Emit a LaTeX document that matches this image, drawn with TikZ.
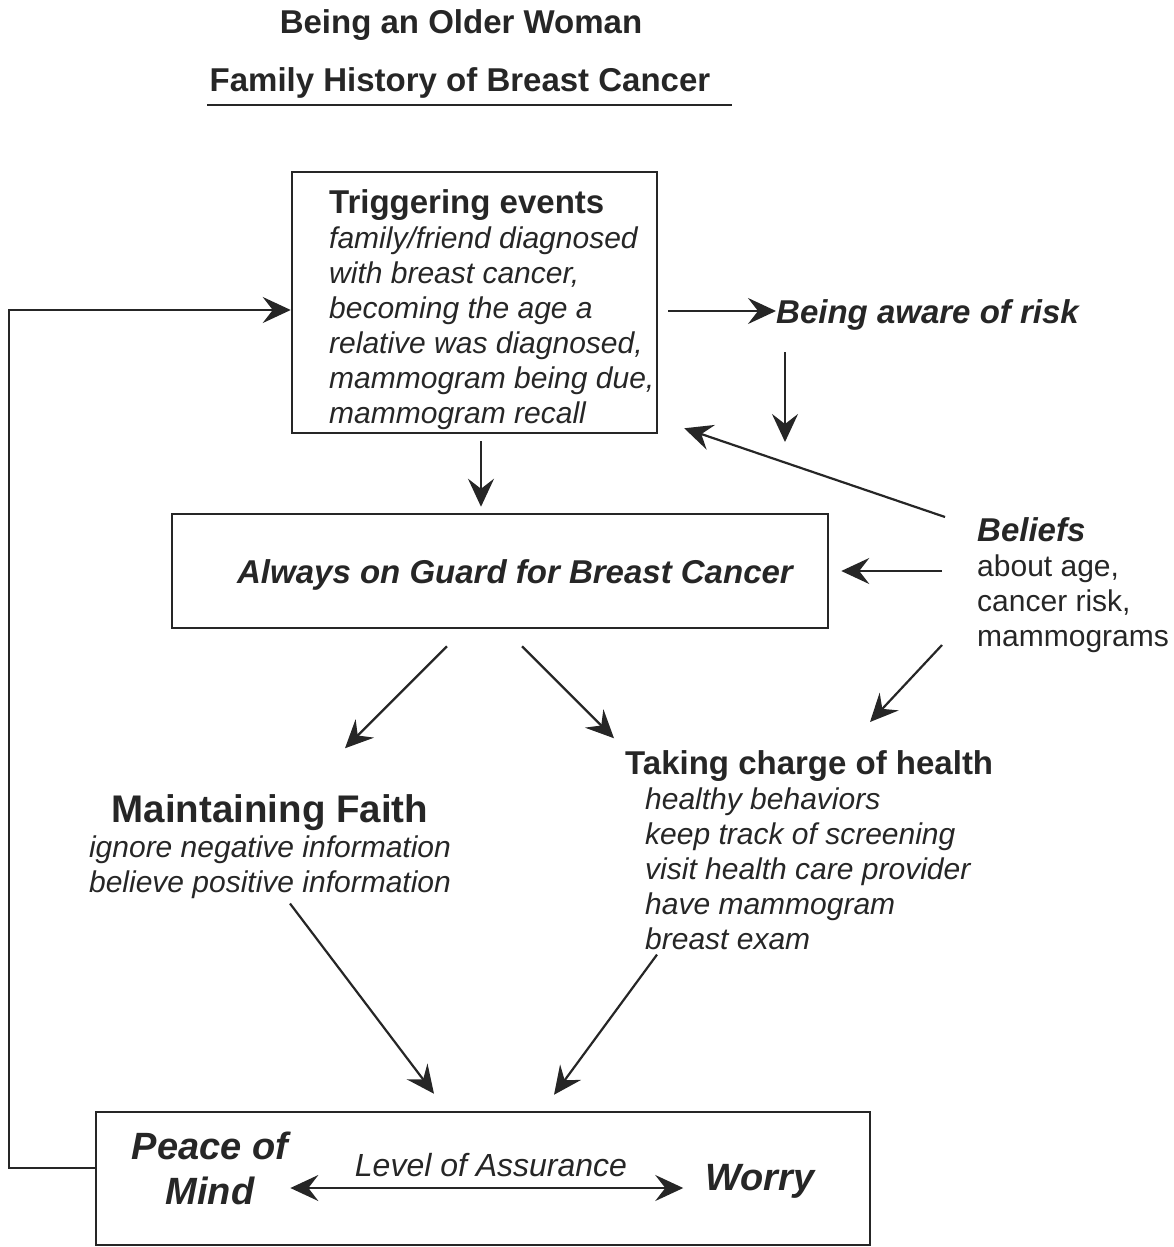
\documentclass[tikz,border=0pt]{standalone}
\usepackage{fontspec}
\setmainfont{Liberation Sans}
\usetikzlibrary{arrows.meta}
\usetikzlibrary{calc}
\definecolor{ink}{HTML}{262626}

\tikzset{
  box/.style={draw=ink, line width=2.5pt, inner sep=0pt},
  txt/.style={text=ink, inner sep=0pt, font=\fontsize{30}{35}\selectfont},
  hd/.style={text=ink, inner sep=0pt, font=\bfseries\fontsize{33}{35}\selectfont},
  bi/.style={text=ink, inner sep=0pt, font=\bfseries\itshape\fontsize{33}{35}\selectfont},
  big/.style={text=ink, inner sep=0pt, font=\bfseries\itshape\fontsize{38}{45}\selectfont},
  tip/.tip={Stealth[length=28pt,width=26pt,inset=10pt]},
  arr/.style={draw=ink, line width=2.2pt, -tip},
}

\begin{document}
\begin{tikzpicture}[x=1pt,y=-1pt]
\useasboundingbox (0,0) rectangle (1173,1247);

% title lines
\node[hd] (older) at (461,25) {Being an Older Woman};
\node[hd] (family) at (460,83) {Family History of Breast Cancer};
\draw[ink, line width=2pt] (207,105) -- (732,105);

% the three boxes
\node[box, minimum width=365pt, minimum height=261pt] (trig) at (474.5,302.5) {};
\node[box, minimum width=656pt, minimum height=114pt] (guard) at (500,571) {};
\node[box, minimum width=774pt, minimum height=133pt] (calm) at (483,1178.5) {};

% texts
\node[txt, font=\itshape\fontsize{30}{35}\selectfont, anchor=north west, align=left] (trigtxt) at (329,189)
  {{\normalfont\bfseries\fontsize{33}{35}\selectfont Triggering events}\\
   family/friend diagnosed\\
   with breast cancer,\\
   becoming the age a\\
   relative was diagnosed,\\
   mammogram being due,\\
   mammogram recall};
\node[bi] (guardtxt) at (515,575) {Always on Guard for Breast Cancer};
\node[bi, anchor=west] (aware) at (776,315) {Being aware of risk};
\node[txt, anchor=north west, align=left] (belief) at (977,517)
  {{\bfseries\itshape\fontsize{33}{35}\selectfont Beliefs}\\
   about age,\\
   cancer risk,\\
   mammograms};
\node[txt, font=\itshape\fontsize{30}{35}\selectfont, anchor=north, align=center] (faith) at (270,794)
  {{\normalfont\bfseries\fontsize{38.5}{40}\selectfont Maintaining Faith}\\
   ignore negative information\\
   believe positive information};
\node[txt, font=\itshape\fontsize{30}{35}\selectfont, anchor=north west, align=left] (charge) at (625,750)
  {{\normalfont\bfseries\fontsize{33}{35}\selectfont Taking charge of health}\\
   \hspace*{20pt}healthy behaviors\\
   \hspace*{20pt}keep track of screening\\
   \hspace*{20pt}visit health care provider\\
   \hspace*{20pt}have mammogram\\
   \hspace*{20pt}breast exam};
\node[big, align=center] (peace) at (210,1168) {Peace of\\Mind};
\node[big] (worry) at (760,1181) {Worry};
\node[txt, font=\itshape\fontsize{32}{35}\selectfont] (level) at (491,1165) {Level of Assurance};

% arrows
\draw[arr] ([xshift=-108pt,yshift=4pt]aware.west) -- ([yshift=4pt]aware.west);
\draw[arr] ([xshift=9pt,yshift=-37pt]aware.west) -- ([xshift=9pt,yshift=-127pt]aware.west);
\draw[arr] ([xshift=-32pt]belief.north west) -- ([xshift=26pt,yshift=6pt]trig.south east);
\draw[arr] ([xshift=6.5pt,yshift=-7pt]trig.south) -- ([xshift=-19pt,yshift=6pt]guard.north);
\draw[arr] ([xshift=-35pt]belief.west |- guard.east) -- ([xshift=12pt]guard.east);
\draw[arr] ([xshift=-35pt,yshift=-128pt]belief.north west) -- ([xshift=-107pt,yshift=-205pt]belief.north west);
\draw[arr] ([xshift=-53pt,yshift=-17pt]guard.south) -- ([xshift=-155pt,yshift=-119pt]guard.south);
\draw[arr] ([xshift=22pt,yshift=-17pt]guard.south) -- ([xshift=114pt,yshift=-109pt]guard.south);
\draw[arr] ([xshift=20pt,yshift=-5pt]faith.south) -- ([xshift=-49pt,yshift=17pt]calm.north);
\draw[arr] ([xshift=32pt,yshift=-5pt]charge.south west) -- ([xshift=71pt,yshift=16pt]calm.north);
\draw[draw=ink, line width=2.2pt, tip-tip]
  ([xshift=2pt,yshift=-20pt]peace.east) -- ([xshift=-22pt,yshift=-7pt]worry.west);

% back to the start
\draw[arr] ([yshift=10.5pt]calm.west) -- ++(-86,0) |- ([yshift=-7.5pt]trig.west);
\end{tikzpicture}
\end{document}
